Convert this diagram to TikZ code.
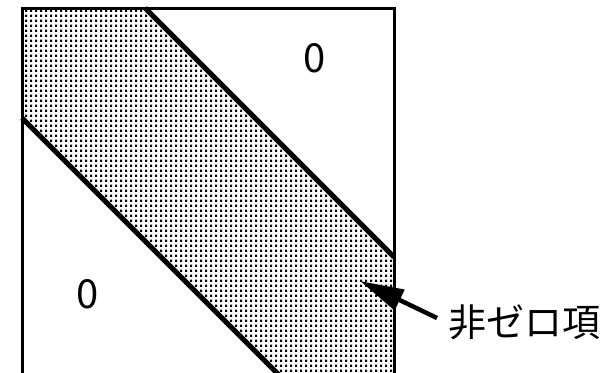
\documentclass[tikz,border=0pt]{standalone}
\usepackage{fontspec}
\usepackage{tikz}
\usetikzlibrary{arrows.meta, positioning, patterns}
\newfontfamily\cjk{Noto Sans CJK JP}
\pgfdeclarepatternformonly{stipple}{\pgfpointorigin}{\pgfpoint{5pt}{4.8pt}}{\pgfpoint{5pt}{4.8pt}}{%
  \pgfpathrectangle{\pgfpointorigin}{\pgfpoint{2.6pt}{2.6pt}}\pgfusepath{fill}}
\tikzset{
  frame/.style={draw=black, line width=3pt},
  band/.style={pattern=stipple, pattern color=black},
  edge/.style={draw=black, line width=5pt},
  zerolabel/.style={font=\cjk\fontsize{40}{40}\selectfont, inner sep=0pt},
  notelabel/.style={font=\cjk\fontsize{38}{38}\selectfont, inner sep=5pt, anchor=west},
  arrow/.style={-{Triangle[length=44pt, width=22pt]}, line width=4.5pt, color=black}
}

\begin{document}
\begin{tikzpicture}[x=1pt, y=-1pt]
  \useasboundingbox (0,0) rectangle (612,372);
  \clip (0,0) rectangle (612,372);

  % Nonzero band
  \fill[band] (22,8) -- (145,8) -- (394,257) -- (394,380) -- (284,380) -- (22,118) -- cycle;
  \draw[edge] (145,8) -- (394,257);
  \draw[edge] (22,118) -- (284,380);

  % Matrix
  \draw[frame] (22,8) rectangle (394,380);

  % Zero parts
  \node[zerolabel] (zerotop) at (315,58) {0};
  \node[zerolabel] (zerobot) at (88,294) {0};

  % Label with arrow
  \node[notelabel] (nonzero) at (443,322) {非ゼロ項};
  \coordinate (tip) at (360,281);
  \draw[arrow] ([xshift=-6pt, yshift=4pt]nonzero.west) -- (tip);
\end{tikzpicture}
\end{document}
